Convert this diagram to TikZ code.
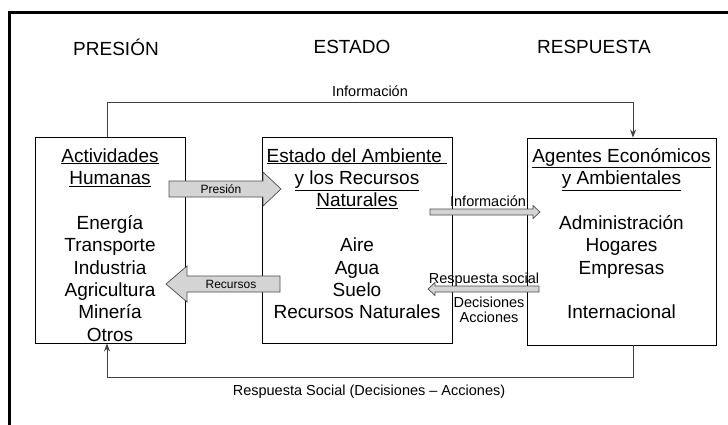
\documentclass[tikz,border=0pt]{standalone}
\usepackage{fontspec}
\setmainfont{Liberation Sans}
\usetikzlibrary{arrows.meta,calc}
\newcommand\myul[1]{\underline{#1}}
\begin{document}
\begin{tikzpicture}[x=1pt,y=-1pt,
  box/.style={draw=black, line width=0.9pt, inner sep=0pt},
  bodytxt/.style={font=\fontsize{19}{22}\selectfont, anchor=base, inner sep=0pt},
  hdr/.style={font=\fontsize{19}{22}\selectfont, inner sep=0pt},
  lbl/.style={font=\fontsize{14.5}{17}\selectfont, anchor=base, inner sep=0pt},
  arrlbl/.style={font=\fontsize{12}{14}\selectfont, inner sep=0pt},
  conn/.style={draw=black!75, line width=0.9pt},
  tipa/.style={-{Stealth[length=8pt,width=6pt]}},
  blockarrow/.style={fill=black!17, draw=black!70, line width=0.7pt, line join=miter}
]
\useasboundingbox (0,0) rectangle (728,424);
% outer frame
\draw[line width=3pt, line join=miter] (9.5,430) -- (9.5,12.5) -- (735,12.5);

% headers
\node[hdr] (hp) at (116,47) {PRESIÓN};
\node[hdr] (he) at (352,47) {ESTADO};
\node[hdr] (hr) at (594,47) {RESPUESTA};

% boxes
\node[box, minimum width=150pt, minimum height=206pt] (act) at (110,240) {};
\node[box, minimum width=190pt, minimum height=206pt] (est) at (357,240) {};
\node[box, minimum width=189pt, minimum height=207pt] (age) at (621.5,241.5) {};

% left box text
\node[bodytxt] (a1) at (110,162) {\myul{Actividades}};
\node[bodytxt] (a2) at (110,184.4) {\myul{Humanas}};
\node[bodytxt] (a3) at (110,229.2) {Energía};
\node[bodytxt] (a4) at (110,251.6) {Transporte};
\node[bodytxt] (a5) at (110,274) {Industria};
\node[bodytxt] (a6) at (110,296.4) {Agricultura};
\node[bodytxt] (a7) at (110,318.8) {Minería};
\node[bodytxt] (a8) at (110,341.2) {Otros};

% middle box text
\node[bodytxt] (e1) at (357,162) {\myul{Estado del Ambiente\ }};
\node[bodytxt] (e2) at (357,184.4) {\myul{y los Recursos}};
\node[bodytxt] (e3) at (357,206.8) {\myul{Naturales}};
\node[bodytxt] (e4) at (357,251.6) {Aire};
\node[bodytxt] (e5) at (357,274) {Agua};
\node[bodytxt] (e6) at (357,296.4) {Suelo};
\node[bodytxt] (e7) at (357,318.8) {Recursos Naturales};

% right box text
\node[bodytxt] (g1) at (621.5,162) {\myul{Agentes Económicos}};
\node[bodytxt] (g2) at (621.5,184.4) {\myul{y Ambientales}};
\node[bodytxt] (g3) at (621.5,229.2) {Administración};
\node[bodytxt] (g4) at (621.5,251.6) {Hogares};
\node[bodytxt] (g5) at (621.5,274) {Empresas};
\node[bodytxt] (g6) at (621.5,318.8) {Internacional};

% top information connector
\coordinate (iL) at ($(act.north)+(-3,0)$);
\coordinate (iR) at ($(age.north)+(11.5,0)$);
\draw[conn, tipa] (iL) -- ++(0,-34) -| (iR);
\node[lbl] (infotop) at (370,96) {Información};

% bottom response connector
\coordinate (bR) at ($(age.south)+(11.5,0)$);
\coordinate (bL) at ($(act.south)+(-3,0)$);
\draw[conn, tipa] (bR) -- ++(0,32) -| (bL);
\node[lbl] (bottxt) at (369,395) {Respuesta Social (Decisiones – Acciones)};

% block arrow: Presión
\draw[blockarrow] (169,181) -- (263,181) -- (263,172) -- (281,189) -- (263,206) -- (263,197) -- (169,197) -- cycle;
\node[arrlbl] (pres) at (221,189) {Presión};

% block arrow: Recursos
\draw[blockarrow] (280,276) -- (187,276) -- (187,266) -- (166,284) -- (187,302) -- (187,292) -- (280,292) -- cycle;
\node[arrlbl] (recu) at (231,284) {Recursos};

% thin arrow: Información
\draw[blockarrow] (430,209) -- (533,209) -- (533,205.5) -- (540,212) -- (533,218.5) -- (533,215) -- (430,215) -- cycle;
\node[lbl] (infomid) at (488,206) {Información};

% thin arrow: Respuesta social
\draw[blockarrow] (539,286) -- (435,286) -- (435,282.5) -- (428,289) -- (435,295.5) -- (435,292) -- (539,292) -- cycle;
\node[lbl] (resp) at (484,283) {Respuesta social};
\node[lbl] (deci) at (489,307) {Decisiones};
\node[lbl] (acci) at (489,322) {Acciones};
\end{tikzpicture}
\end{document}
